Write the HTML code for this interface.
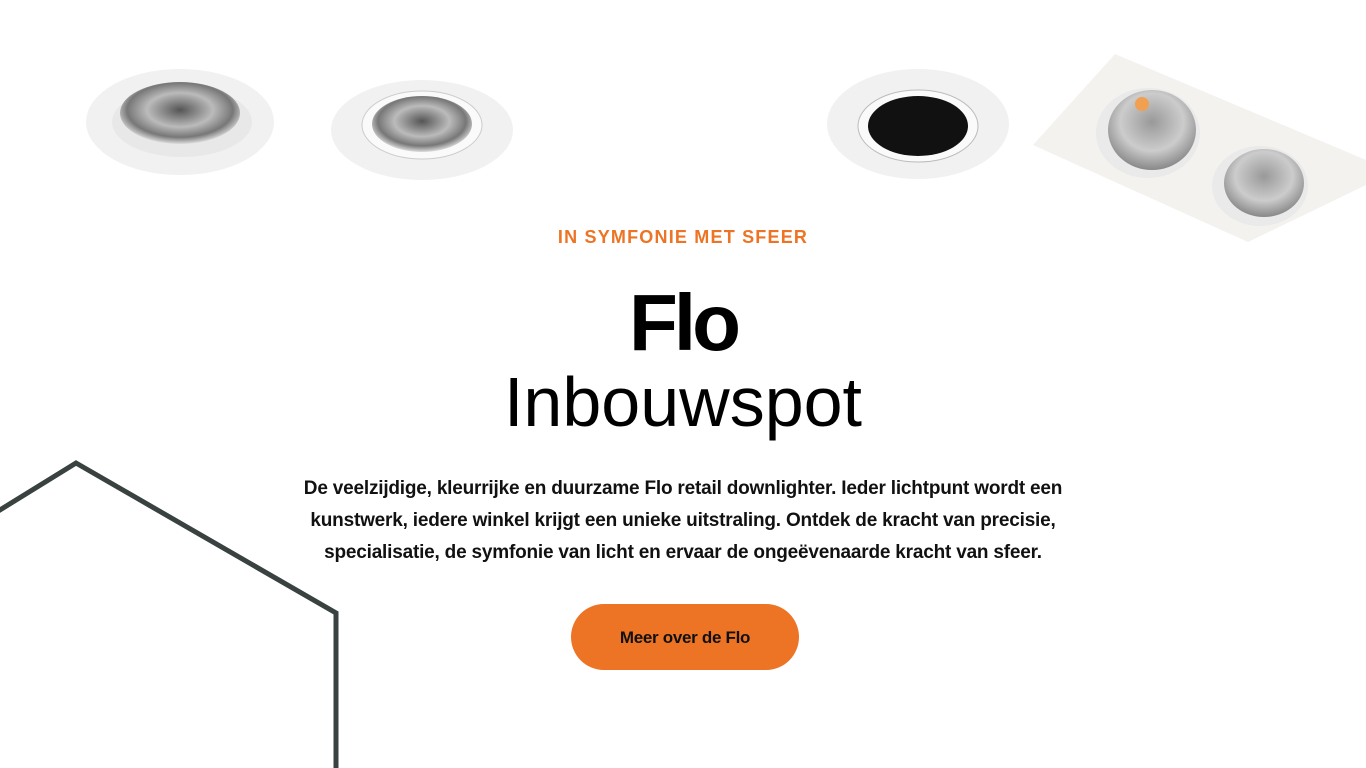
<!DOCTYPE html>
<html><head><meta charset="utf-8"><style>
body{margin:0;width:1366px;height:768px;background:#fff;position:relative;overflow:hidden;font-family:"Liberation Sans",sans-serif}
.c{position:absolute;left:0;width:1366px;text-align:center;white-space:nowrap}
</style></head><body>
<svg width="1366" height="768" style="position:absolute;left:0;top:0">
<defs>
<radialGradient id="ref" cx="50%" cy="45%" r="55%"><stop offset="0" stop-color="#555"/><stop offset=".5" stop-color="#bbb"/><stop offset=".8" stop-color="#777"/><stop offset="1" stop-color="#ddd"/></radialGradient>
<radialGradient id="ref2" cx="50%" cy="40%" r="60%"><stop offset="0" stop-color="#999"/><stop offset=".6" stop-color="#ccc"/><stop offset="1" stop-color="#888"/></radialGradient>
</defs>
<ellipse cx="180" cy="122" rx="94" ry="53" fill="#f1f1f1"/>
<ellipse cx="182" cy="122" rx="70" ry="35" fill="#e8e8e8"/>
<ellipse cx="180" cy="113" rx="60" ry="31" fill="url(#ref)"/>
<ellipse cx="422" cy="130" rx="91" ry="50" fill="#f1f1f1"/>
<ellipse cx="422" cy="125" rx="60" ry="34" fill="#fafafa" stroke="#ccc"/>
<ellipse cx="422" cy="124" rx="50" ry="28" fill="url(#ref)"/>
<ellipse cx="918" cy="124" rx="91" ry="55" fill="#f1f1f1"/>
<ellipse cx="918" cy="126" rx="60" ry="36" fill="#fafafa" stroke="#bbb"/>
<ellipse cx="918" cy="126" rx="50" ry="30" fill="#111"/>
<polygon points="1115,54 1366,160 1366,185 1248,242 1033,145" fill="#f4f2ef"/>
<ellipse cx="1148" cy="133" rx="52" ry="45" fill="#eaeaea"/>
<ellipse cx="1152" cy="130" rx="44" ry="40" fill="url(#ref2)"/>
<circle cx="1142" cy="104" r="7" fill="#f0a050"/>
<ellipse cx="1260" cy="186" rx="48" ry="40" fill="#eaeaea"/>
<ellipse cx="1264" cy="183" rx="40" ry="34" fill="url(#ref2)"/>
<polyline points="-5,513 76,463 336,613 336,770" fill="none" stroke="#394240" stroke-width="5"/>
</svg>
<div class="c" style="top:227px;font-size:18px;font-weight:bold;color:#ec7424;letter-spacing:1.2px;padding-left:0">IN SYMFONIE MET SFEER</div>
<div class="c" style="top:277px;font-size:80px;font-weight:900;letter-spacing:-4px;color:#000">Flo</div>
<div class="c" style="top:362px;font-size:70px;font-weight:300;color:#000">Inbouwspot</div>
<div class="c" style="top:473px;font-size:19px;font-weight:bold;letter-spacing:-0.2px;line-height:32px;color:#111">De veelzijdige, kleurrijke en duurzame Flo retail downlighter. Ieder lichtpunt wordt een<br>kunstwerk, iedere winkel krijgt een unieke uitstraling. Ontdek de kracht van precisie,<br>specialisatie, de symfonie van licht en ervaar de ongeëvenaarde kracht van sfeer.</div>
<div style="position:absolute;left:571px;top:604px;width:228px;height:66px;border-radius:33px;background:#ec7424;color:#111;font-weight:bold;font-size:17px;line-height:68px;text-align:center;letter-spacing:-0.3px">Meer over de Flo</div>
</body></html>
